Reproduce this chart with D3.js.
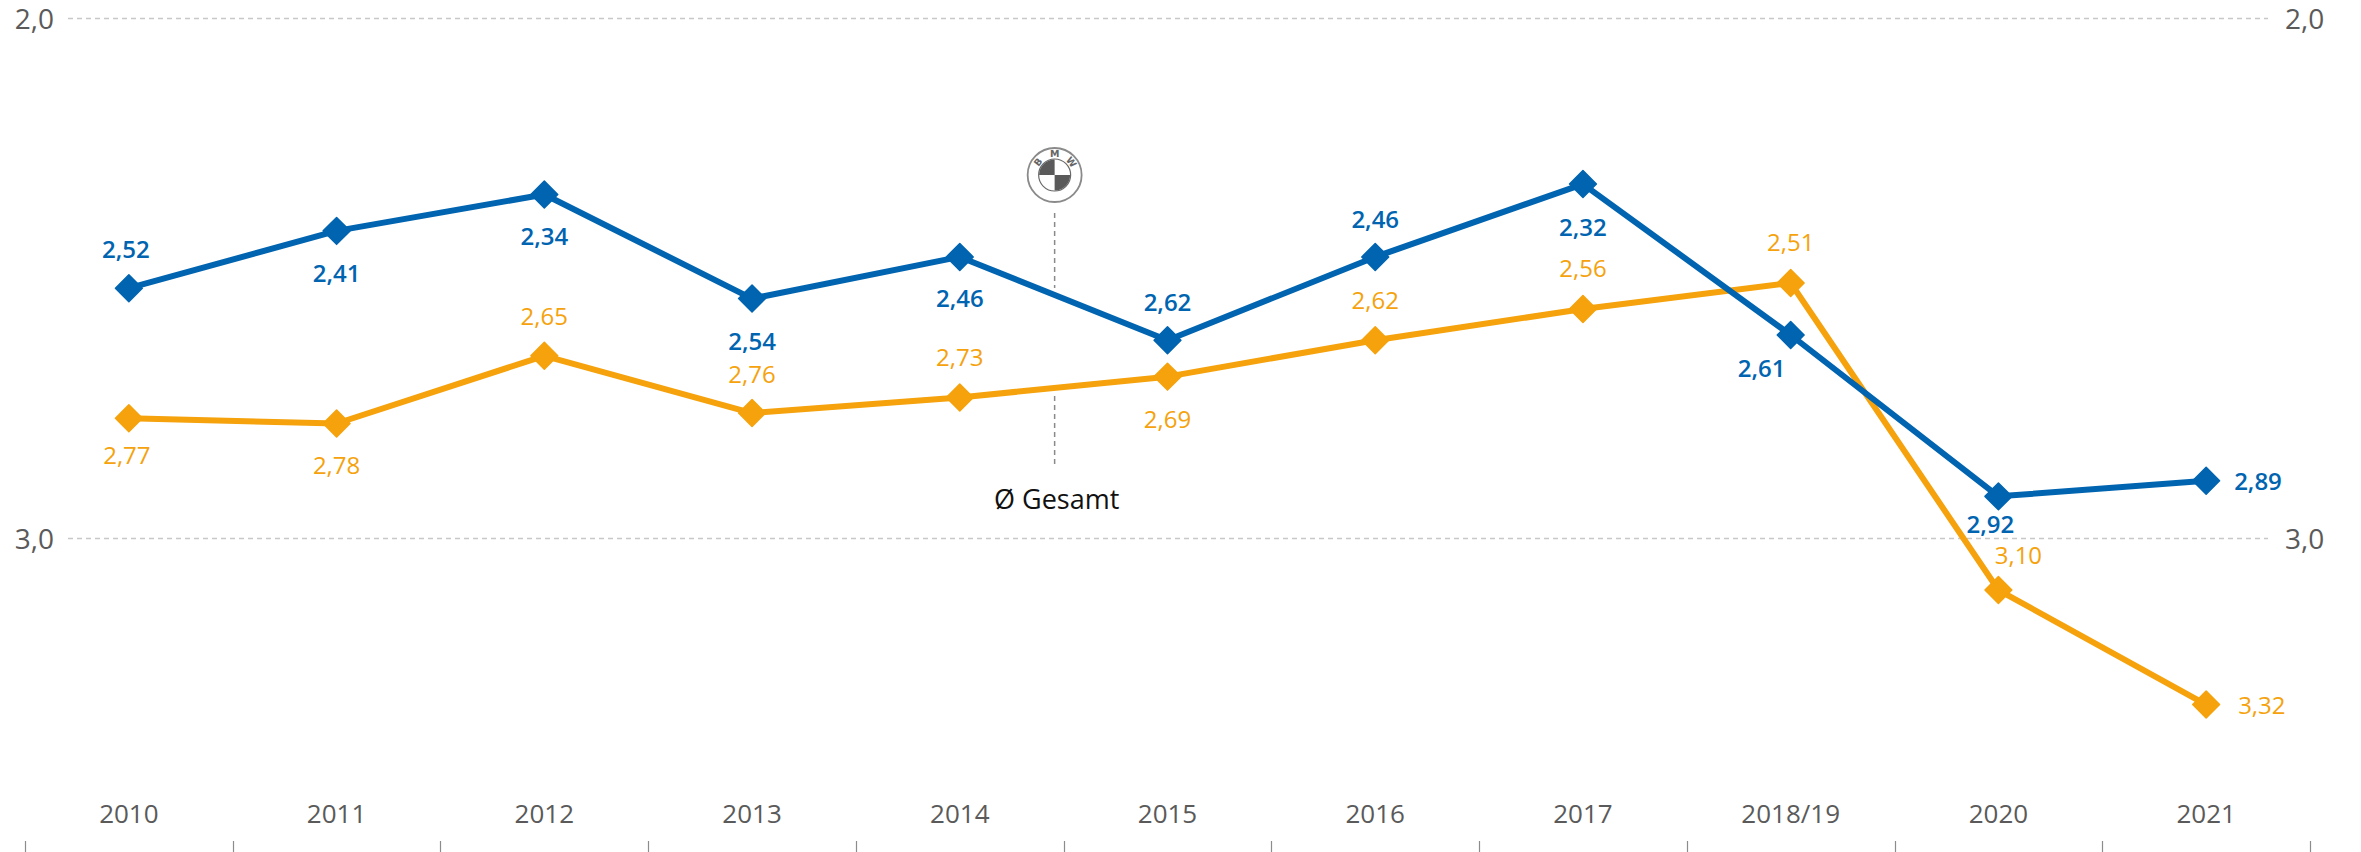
<!DOCTYPE html>
<html>
<head>
<meta charset="utf-8">
<script src="https://cdn.jsdelivr.net/npm/d3@7"></script>
<style>
  html, body { margin: 0; padding: 0; background: #fff; }
  svg { display: block; font-family: "Open Sans", Lato, "DejaVu Sans", sans-serif; }
</style>
</head>
<body>
<svg id="chart" width="2361" height="852"></svg>
<script>
// Years on the x axis
const categories = ["2010", "2011", "2012", "2013", "2014", "2015", "2016", "2017", "2018/19", "2020", "2021"];
// BMW grade per year
const bmwValues = [2.52, 2.41, 2.34, 2.54, 2.46, 2.62, 2.46, 2.32, 2.61, 2.92, 2.89];
// Overall average grade per year
const gesamtValues = [2.77, 2.78, 2.65, 2.76, 2.73, 2.69, 2.62, 2.56, 2.51, 3.10, 3.32];
// Y-axis ticks (grades, lower is better so the axis runs downward)
const yTicks = [2.0, 3.0];

// Label placement for each point: [dx, dy] relative to the marker centre
const bmwLabelOffsets = [[-3, -40], [0, 42], [0, 41], [0, 42], [0, 41], [0, -39], [0, -38], [0, 42], [-29, 32], [-8, 27], [28, 0]];
const gesamtLabelOffsets = [[-2, 36], [0, 41], [0, -40], [0, -40], [0, -41], [0, 42], [0, -41], [0, -41], [0, -41], [20, -36], [32, 0]];

const W = 2361, H = 852;
const BLUE = "#0064B0";
const ORANGE = "#F5A20C";
const GREY_TXT = "#5a5a5a";

const svg = d3.select("#chart");
svg.append("rect").attr("width", W).attr("height", H).attr("fill", "#fff");

const x = d3.scaleBand().domain(categories).range([25, 2310]).paddingInner(0).paddingOuter(0);
const cx = d => x(d) + x.bandwidth() / 2;
const y = d3.scaleLinear().domain([2.0, 3.0]).range([17.5, 538]);
const fmt = v => d3.format(".2f")(v).replace(".", ",");
const fmtTick = v => d3.format(".1f")(v).replace(".", ",");

// Horizontal dashed grid lines
const grid = svg.append("g");
grid.selectAll("line").data(yTicks).join("line")
  .attr("x1", 68).attr("x2", 2268)
  .attr("y1", d => Math.round(y(d)) + 0.5).attr("y2", d => Math.round(y(d)) + 0.5)
  .attr("stroke", "#c8c8c8").attr("stroke-width", 1.3)
  .attr("stroke-dasharray", "5,4");

// Left and right y-axis labels
const yAxisL = d3.axisLeft(y).tickValues(yTicks).tickFormat(fmtTick).tickSize(0).tickPadding(0);
const yAxisR = d3.axisRight(y).tickValues(yTicks).tickFormat(fmtTick).tickSize(0).tickPadding(0);
const gyl = svg.append("g").attr("transform", "translate(54,1)").call(yAxisL);
const gyr = svg.append("g").attr("transform", "translate(2285,1)").call(yAxisR);
[gyl, gyr].forEach(g => {
  g.select(".domain").remove();
  g.selectAll("text").attr("font-size", 28).attr("font-weight", 400).attr("fill", GREY_TXT)
    .attr("font-family", "'Open Sans', Lato, sans-serif").attr("dy", "0.35em");
});

// Bottom axis: category labels and boundary tick marks
const xAxis = d3.axisBottom(x).tickSize(0).tickPadding(0);
const gx = svg.append("g").attr("transform", "translate(0,800)").call(xAxis);
gx.select(".domain").remove();
gx.selectAll("text").attr("font-size", 26).attr("font-weight", 400).attr("fill", GREY_TXT)
  .attr("font-family", "'Open Sans', Lato, sans-serif").attr("dy", "0.35em").attr("y", 14);
const boundaries = categories.map(c => x(c)).concat([x(categories[categories.length - 1]) + x.bandwidth()]);
svg.append("g").selectAll("line").data(boundaries).join("line")
  .attr("x1", d => Math.round(d) + 0.5).attr("x2", d => Math.round(d) + 0.5)
  .attr("y1", 841).attr("y2", 852)
  .attr("stroke", "#8c8c8c").attr("stroke-width", 1.2);

// Annotation between 2014 and 2015: BMW roundel above, "Ø Gesamt" below
const ax = (cx("2014") + cx("2015")) / 2 - 9;
const ann = svg.append("g");
ann.append("line").attr("x1", ax).attr("x2", ax).attr("y1", 213).attr("y2", 288)
  .attr("stroke", "#8a8a8a").attr("stroke-width", 1.5).attr("stroke-dasharray", "5,4");
ann.append("line").attr("x1", ax).attr("x2", ax).attr("y1", 396).attr("y2", 464)
  .attr("stroke", "#8a8a8a").attr("stroke-width", 1.5).attr("stroke-dasharray", "5,4");
ann.append("text").attr("x", ax + 2).attr("y", 498).attr("text-anchor", "middle")
  .attr("dominant-baseline", "central").attr("font-size", 27).attr("fill", "#111")
  .text("Ø Gesamt");

// BMW roundel
const logo = ann.append("g").attr("transform", `translate(${ax},175)`);
logo.append("circle").attr("r", 27).attr("fill", "#fff").attr("stroke", "#8a8a8a").attr("stroke-width", 1.8);
const arc = d3.arc().innerRadius(0).outerRadius(15.5);
logo.append("circle").attr("r", 16).attr("fill", "#fff").attr("stroke", "#6a6a6a").attr("stroke-width", 1.2);
logo.append("path").attr("d", arc({startAngle: -Math.PI / 2, endAngle: 0})).attr("fill", "#5a5a5a");
logo.append("path").attr("d", arc({startAngle: Math.PI / 2, endAngle: Math.PI})).attr("fill", "#5a5a5a");
[["B", -52], ["M", 0], ["W", 52]].forEach(([ch, ang]) => {
  const a = ang * Math.PI / 180, r = 21.3;
  logo.append("text")
    .attr("transform", `translate(${r * Math.sin(a)},${-r * Math.cos(a)}) rotate(${ang})`)
    .attr("text-anchor", "middle").attr("dominant-baseline", "central")
    .attr("font-size", 9.5).attr("font-weight", 700).attr("fill", "#666")
    .attr("font-family", "'DejaVu Sans', sans-serif")
    .text(ch);
});

// Series lines, markers and value labels
const line = d3.line().x(d => cx(d.cat)).y(d => y(d.v));
const diamond = d3.symbol().type(d3.symbolSquare).size(19 * 19);

function drawSeries(values, color, offsets, weight) {
  const pts = categories.map((c, i) => ({cat: c, v: values[i], off: offsets[i]}));
  const g = svg.append("g");
  g.append("path").datum(pts).attr("d", line)
    .attr("fill", "none").attr("stroke", color).attr("stroke-width", 6)
    .attr("stroke-linejoin", "round");
  g.selectAll("path.m").data(pts).join("path").attr("class", "m")
    .attr("d", diamond)
    .attr("transform", d => `translate(${cx(d.cat)},${y(d.v)}) rotate(45)`)
    .attr("fill", color).attr("stroke", color).attr("stroke-width", 1.5).attr("stroke-linejoin", "round");
  g.selectAll("text").data(pts).join("text")
    .attr("x", d => cx(d.cat) + d.off[0])
    .attr("y", d => y(d.v) + d.off[1])
    .attr("text-anchor", d => d.off[1] === 0 ? "start" : "middle")
    .attr("dominant-baseline", "central")
    .attr("font-size", 24).attr("font-weight", weight).attr("fill", color)
    .text(d => fmt(d.v));
}

drawSeries(gesamtValues, ORANGE, gesamtLabelOffsets, 400);
drawSeries(bmwValues, BLUE, bmwLabelOffsets, 600);
</script>
</body>
</html>
